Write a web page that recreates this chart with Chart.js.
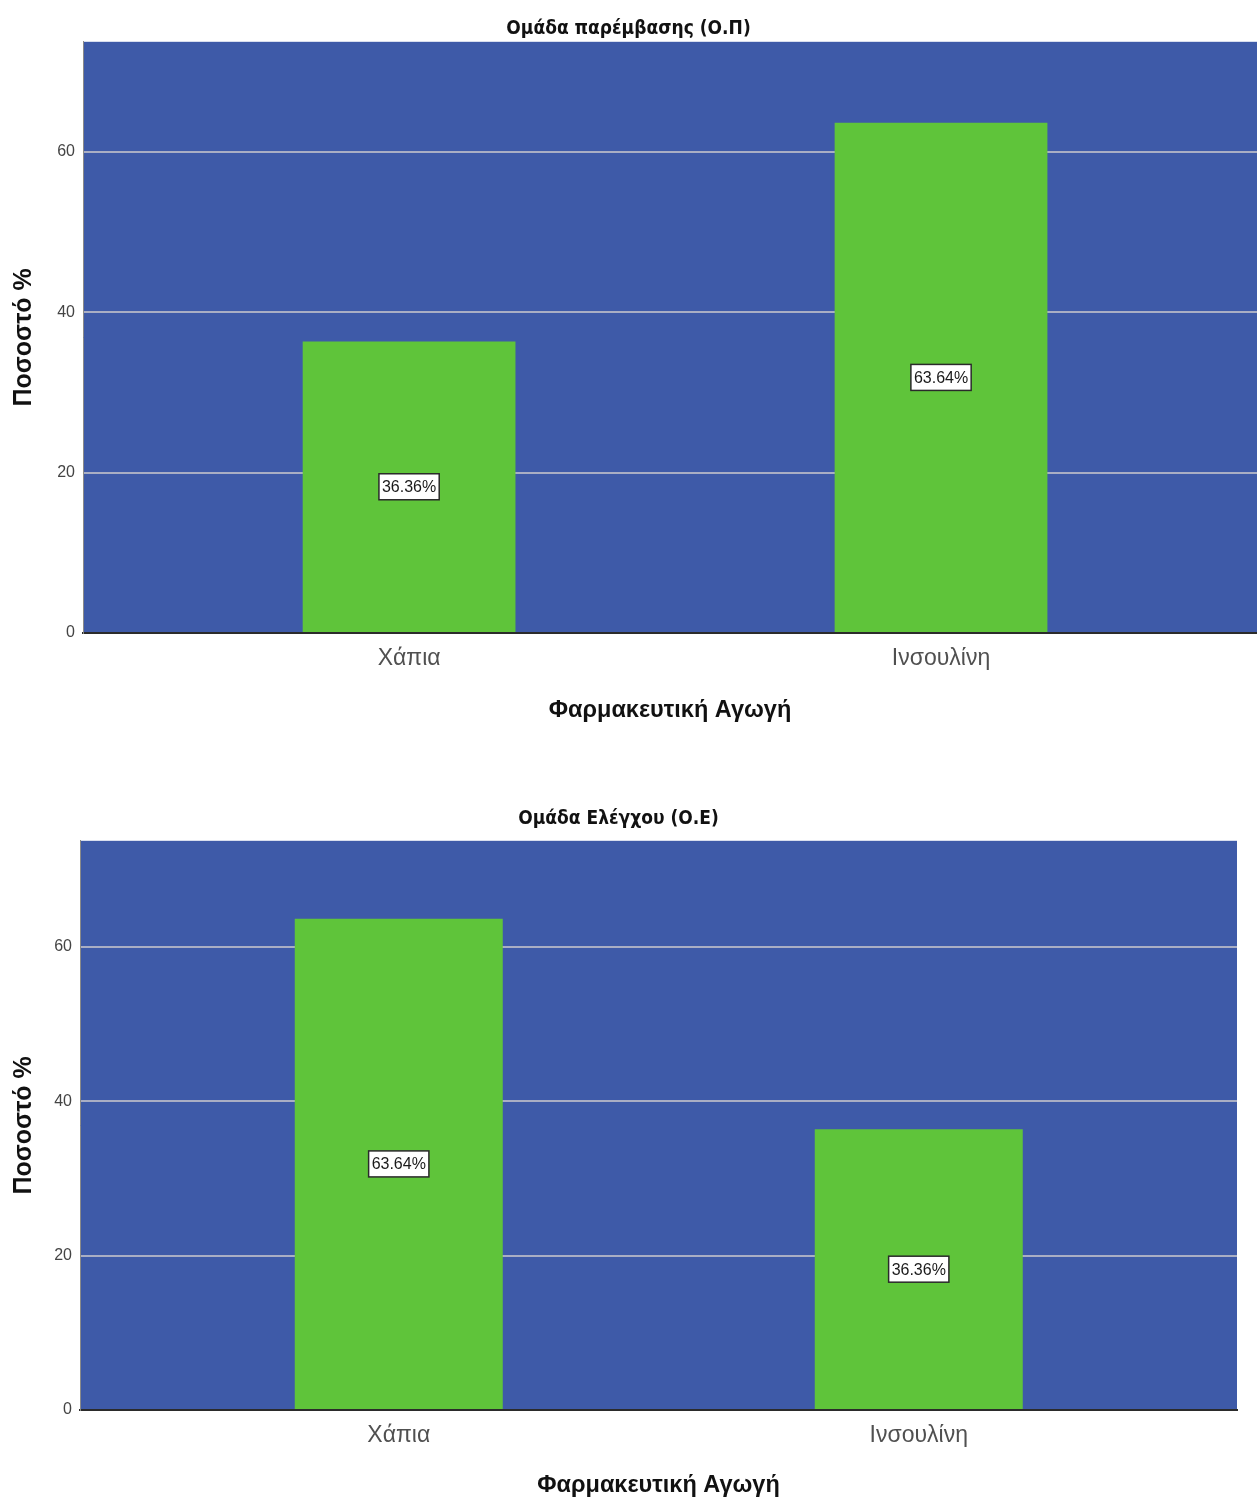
<!DOCTYPE html>
<html>
<head>
<meta charset="utf-8">
<script src="https://cdn.jsdelivr.net/npm/chart.js@4.4.1/dist/chart.umd.min.js"></script>
<style>
  html, body { margin: 0; padding: 0; background: #ffffff; }
  body { width: 1257px; height: 1497px; position: relative; overflow: hidden; }
  .panel { position: absolute; left: 0; }
</style>
</head>
<body>
<div class="panel" id="p1" style="top:0px;width:1257px;height:735px;"><canvas id="c1"></canvas></div>
<div class="panel" id="p2" style="top:790px;width:1257px;height:712px;"><canvas id="c2"></canvas></div>
<script>
// Treatment categories and percentage of patients per group
const categories = ['Χάπια', 'Ινσουλίνη'];
const interventionValues = [36.36, 63.64];   // Ομάδα παρέμβασης (Ο.Π)
const controlValues = [63.64, 36.36];        // Ομάδα Ελέγχου (Ο.Ε)
const yTicks = [0, 20, 40, 60];
const yMax = 73.75;

const titles = ['Ομάδα παρέμβασης (Ο.Π)', 'Ομάδα Ελέγχου (Ο.Ε)'];
const xTitle = 'Φαρμακευτική Αγωγή';
const yTitle = 'Ποσοστό %';

const PLOT_BG = '#3e5aa8';
const BAR_COLOR = '#5fc43a';
const GRID_COLOR = '#a9aec4';

// Fill the plotting area before the grid is drawn
const plotBackground = {
  id: 'plotBackground',
  beforeDraw(chart) {
    const { ctx, chartArea: a } = chart;
    ctx.save();
    ctx.fillStyle = PLOT_BG;
    ctx.fillRect(a.left, a.top, a.right - a.left, a.bottom - a.top);
    ctx.restore();
  }
};

// Boxed percentage label at the middle of every bar
const boxedLabels = {
  id: 'boxedLabels',
  afterDatasetsDraw(chart) {
    const { ctx } = chart;
    chart.data.datasets.forEach((ds, di) => {
      chart.getDatasetMeta(di).data.forEach((bar, i) => {
        const v = ds.data[i].y;
        const text = v.toFixed(2) + '%';
        const cx = bar.x;
        const cy = (bar.y + bar.base) / 2;
        ctx.save();
        ctx.font = '16px "Liberation Sans", Arial, sans-serif';
        const w = ctx.measureText(text).width + 6;
        const h = 26;
        ctx.fillStyle = '#ffffff';
        ctx.fillRect(cx - w / 2, cy - h / 2, w, h);
        ctx.strokeStyle = '#2a2a2a';
        ctx.lineWidth = 1.5;
        ctx.strokeRect(cx - w / 2, cy - h / 2, w, h);
        ctx.fillStyle = '#1a1a1a';
        ctx.textAlign = 'center';
        ctx.textBaseline = 'middle';
        ctx.fillText(text, cx, cy + 1);
        ctx.restore();
      });
    });
  }
};

function makeChart(canvasId, titleText, values, frame) {
  const points = values.map((v, i) => ({ x: i, y: v }));
  return new Chart(document.getElementById(canvasId), {
    type: 'bar',
    data: {
      datasets: [{
        data: points,
        backgroundColor: BAR_COLOR,
        borderWidth: 0,
        barPercentage: 0.4,
        categoryPercentage: 1.0
      }]
    },
    options: {
      responsive: true,
      maintainAspectRatio: false,
      animation: false,
      layout: { padding: { left: 0, right: frame.padRight, top: 0, bottom: 0 } },
      plugins: {
        legend: { display: false },
        tooltip: { enabled: false },
        title: {
          display: true,
          text: titleText,
          color: '#111111',
          font: { family: '"DejaVu Sans Condensed", "DejaVu Sans", sans-serif', size: 19, weight: 'bold', lineHeight: 1.2 },
          padding: { top: 18, bottom: frame.titleGap }
        }
      },
      scales: {
        x: {
          type: 'linear',
          offset: false,
          bounds: 'data',
          min: frame.xMin,
          max: frame.xMax,
          afterBuildTicks(scale) {
            scale.ticks = categories.map((_, i) => ({ value: i }));
          },
          afterFit(scale) { scale.height = frame.xAxisHeight; },
          grid: { display: false, drawTicks: false, offset: false },
          border: { display: true, color: '#2b2b2b', width: 2 },
          ticks: {
            autoSkip: false,
            maxRotation: 0,
            padding: 12,
            color: '#505050',
            font: { family: '"Liberation Sans", Arial, sans-serif', size: 23 },
            callback: (v) => categories[v]
          },
          title: {
            display: true,
            text: xTitle,
            color: '#111111',
            font: { family: '"Liberation Sans", Arial, sans-serif', size: 23.5, weight: 'bold', lineHeight: 1.2 },
            padding: { top: 0, bottom: frame.xTitlePad }
          }
        },
        y: {
          min: 0,
          max: yMax,
          afterBuildTicks(scale) {
            scale.ticks = yTicks.map(v => ({ value: v }));
          },
          afterFit(scale) { scale.width = frame.yAxisWidth; },
          grid: {
            drawTicks: false,
            lineWidth: 2,
            color: (ctx) => (ctx.tick && ctx.tick.value === 0 ? 'rgba(0,0,0,0)' : GRID_COLOR)
          },
          border: { display: true, color: '#8a8a8a', width: 1 },
          ticks: {
            padding: 8,
            color: '#444444',
            font: { family: '"Liberation Sans", Arial, sans-serif', size: 16 }
          },
          title: {
            display: true,
            text: yTitle,
            color: '#111111',
            font: { family: '"Liberation Sans", Arial, sans-serif', size: 25, weight: 'bold', lineHeight: 1.2 },
            padding: { top: 9, bottom: 0 }
          }
        }
      }
    },
    plugins: [plotBackground, boxedLabels]
  });
}

makeChart('c1', titles[0], interventionValues, {
  padRight: 0, titleGap: 1, xAxisHeight: 102, xTitlePad: 10, yAxisWidth: 83,
  xMin: -0.613, xMax: 1.594
});
makeChart('c2', titles[1], controlValues, {
  padRight: 20, titleGap: 10, xAxisHeight: 92, xTitlePad: 2, yAxisWidth: 80,
  xMin: -0.613, xMax: 1.612
});
</script>
</body>
</html>
